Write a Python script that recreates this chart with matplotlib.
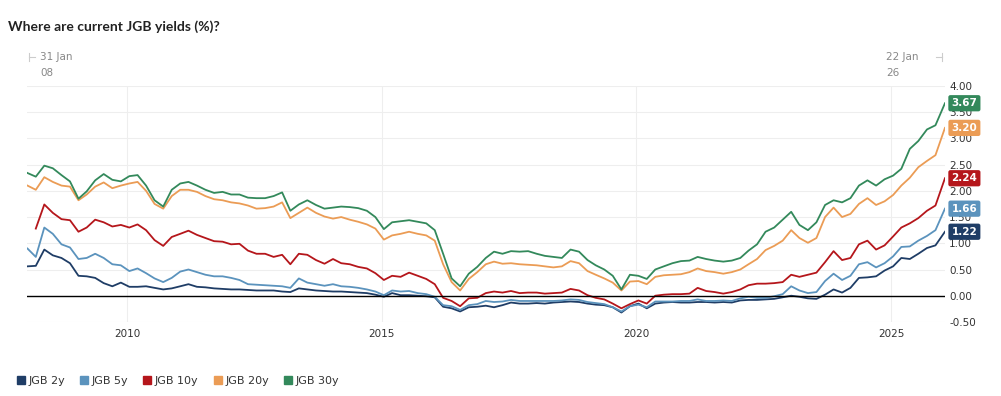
import matplotlib
matplotlib.use("Agg")
import matplotlib.pyplot as plt
import matplotlib.dates as mdates
from matplotlib.lines import Line2D
import pandas as pd
import numpy as np

# bimonthly readings, Jan 2008 .. Nov 2025, plus the latest point (22 Jan 2026)
dates = list(pd.date_range("2008-01-01", periods=108, freq="2MS") + pd.Timedelta(days=14)) + [pd.Timestamp("2026-01-22")]

jgb_2y = [0.56, 0.57, 0.88, 0.77, 0.72, 0.62,
          0.38, 0.37, 0.34, 0.24, 0.18, 0.25,
          0.17, 0.17, 0.18, 0.15, 0.12, 0.14,
          0.18, 0.22, 0.17, 0.16, 0.14, 0.13,
          0.12, 0.12, 0.11, 0.10, 0.10, 0.10,
          0.08, 0.07, 0.14, 0.12, 0.10, 0.09,
          0.08, 0.08, 0.07, 0.06, 0.05, 0.02,
          -0.02, 0.05, 0.01, 0.01, 0.00, -0.01,
          -0.03, -0.21, -0.24, -0.30, -0.22, -0.21,
          -0.19, -0.22, -0.18, -0.13, -0.15, -0.15,
          -0.14, -0.15, -0.13, -0.12, -0.11, -0.12,
          -0.15, -0.17, -0.18, -0.22, -0.32, -0.20,
          -0.15, -0.24, -0.15, -0.13, -0.12, -0.13,
          -0.13, -0.12, -0.12, -0.13, -0.12, -0.13,
          -0.09, -0.08, -0.08, -0.07, -0.06, -0.03,
          0.00, -0.02, -0.05, -0.06, 0.02, 0.12,
          0.06, 0.15, 0.34, 0.35, 0.37, 0.48,
          0.56, 0.72, 0.70, 0.80, 0.91, 0.96,
          1.22]

jgb_5y = [0.90, 0.74, 1.30, 1.18, 0.98, 0.92,
          0.70, 0.72, 0.80, 0.72, 0.60, 0.58,
          0.47, 0.52, 0.43, 0.33, 0.26, 0.34,
          0.46, 0.50, 0.45, 0.40, 0.37, 0.37,
          0.34, 0.30, 0.22, 0.21, 0.20, 0.19,
          0.18, 0.15, 0.33, 0.25, 0.22, 0.19,
          0.22, 0.18, 0.17, 0.15, 0.12, 0.08,
          0.01, 0.10, 0.08, 0.09, 0.05, 0.03,
          -0.02, -0.18, -0.20, -0.27, -0.18, -0.16,
          -0.10, -0.12, -0.11, -0.08, -0.10, -0.10,
          -0.10, -0.10, -0.10, -0.09, -0.07, -0.08,
          -0.12, -0.14, -0.16, -0.22, -0.30, -0.20,
          -0.17, -0.22, -0.11, -0.11, -0.11, -0.10,
          -0.10, -0.07, -0.10, -0.10, -0.09, -0.10,
          -0.05, -0.02, -0.04, -0.04, -0.01, 0.03,
          0.18, 0.10, 0.05, 0.07, 0.28, 0.42,
          0.30, 0.38, 0.60, 0.64, 0.54, 0.62,
          0.75, 0.93, 0.94, 1.05, 1.14, 1.25,
          1.66]

jgb_10y = [np.nan, 1.28, 1.74, 1.58, 1.46, 1.44,
           1.22, 1.30, 1.45, 1.40, 1.32, 1.35,
           1.30, 1.36, 1.25, 1.06, 0.95, 1.12,
           1.18, 1.24, 1.16, 1.10, 1.04, 1.03,
           0.98, 0.99, 0.86, 0.80, 0.80, 0.74,
           0.78, 0.60, 0.80, 0.78, 0.68, 0.61,
           0.70, 0.62, 0.60, 0.55, 0.52, 0.43,
           0.30, 0.38, 0.36, 0.44, 0.38, 0.32,
           0.22, -0.04, -0.10, -0.20, -0.05, -0.04,
           0.05, 0.08, 0.06, 0.09, 0.05, 0.06,
           0.06, 0.04, 0.05, 0.06, 0.13, 0.10,
           0.01, -0.04, -0.07, -0.15, -0.24, -0.16,
           -0.09, -0.15, 0.00, 0.02, 0.03, 0.03,
           0.04, 0.15, 0.09, 0.07, 0.04, 0.07,
           0.12, 0.20, 0.23, 0.23, 0.24, 0.26,
           0.40, 0.36, 0.40, 0.44, 0.64, 0.85,
           0.68, 0.72, 0.98, 1.05, 0.88, 0.96,
           1.13, 1.30, 1.38, 1.48, 1.62, 1.72,
           2.24]

jgb_20y = [2.10, 2.02, 2.26, 2.17, 2.10, 2.08,
           1.82, 1.93, 2.08, 2.16, 2.05, 2.10,
           2.14, 2.17, 2.00, 1.75, 1.66, 1.90,
           2.02, 2.02, 1.98, 1.90, 1.84, 1.82,
           1.78, 1.76, 1.72, 1.66, 1.67, 1.70,
           1.78, 1.48, 1.58, 1.68, 1.58, 1.51,
           1.47, 1.50, 1.45, 1.41, 1.36, 1.28,
           1.07, 1.15, 1.18, 1.22, 1.18, 1.15,
           1.05, 0.60, 0.26, 0.10, 0.32, 0.45,
           0.60, 0.65, 0.61, 0.62, 0.60, 0.59,
           0.58, 0.56, 0.54, 0.56, 0.66, 0.62,
           0.47, 0.40, 0.33, 0.25, 0.10, 0.27,
           0.28, 0.22, 0.36, 0.39, 0.40, 0.41,
           0.45, 0.52, 0.47, 0.45, 0.42, 0.45,
           0.50, 0.60, 0.70, 0.87, 0.95, 1.05,
           1.25, 1.10, 1.01, 1.10, 1.50, 1.68,
           1.50, 1.56, 1.75, 1.86, 1.73, 1.80,
           1.92, 2.10, 2.25, 2.45, 2.57, 2.68,
           3.20]

jgb_30y = [2.34, 2.27, 2.48, 2.43, 2.30, 2.18,
           1.85, 1.99, 2.20, 2.32, 2.21, 2.18,
           2.28, 2.30, 2.10, 1.82, 1.70, 2.02,
           2.14, 2.17, 2.10, 2.02, 1.96, 1.98,
           1.93, 1.93, 1.87, 1.86, 1.86, 1.90,
           1.97, 1.62, 1.74, 1.82, 1.73, 1.66,
           1.68, 1.70, 1.69, 1.67, 1.62, 1.50,
           1.27, 1.40, 1.42, 1.44, 1.41, 1.38,
           1.25, 0.80, 0.33, 0.18, 0.42, 0.55,
           0.72, 0.84, 0.80, 0.85, 0.84, 0.85,
           0.80, 0.76, 0.74, 0.72, 0.88, 0.84,
           0.68, 0.58, 0.50, 0.38, 0.12, 0.40,
           0.38, 0.32, 0.50, 0.56, 0.62, 0.66,
           0.67, 0.74, 0.70, 0.67, 0.65, 0.67,
           0.72, 0.86, 0.98, 1.22, 1.30, 1.45,
           1.60, 1.35, 1.25, 1.40, 1.73, 1.82,
           1.78, 1.86, 2.10, 2.20, 2.10, 2.22,
           2.29, 2.42, 2.80, 2.95, 3.17, 3.25,
           3.67]

names = ["JGB 2y", "JGB 5y", "JGB 10y", "JGB 20y", "JGB 30y"]
colors = ["#1f3d66", "#5b93bd", "#b5161b", "#eb9c55", "#33895b"]
series = [jgb_2y, jgb_5y, jgb_10y, jgb_20y, jgb_30y]

fig = plt.figure(figsize=(10.01, 3.96), dpi=100)
ax = fig.add_axes([0.027, 0.187, 0.917, 0.596])

for vals, c in zip(series, colors):
    ax.plot(dates, vals, color=c, lw=1.3, zorder=3)

ax.axhline(0, color="black", lw=1, zorder=4)

ax.set_ylim(-0.5, 4.0)
ax.set_xlim(pd.Timestamp("2008-01-12"), pd.Timestamp("2026-01-22"))
ax.set_yticks(np.arange(-0.5, 4.01, 0.5))
ax.yaxis.set_major_formatter(matplotlib.ticker.FormatStrFormatter("%.2f"))
ax.yaxis.tick_right()
ax.xaxis.set_major_locator(mdates.YearLocator(5))
ax.xaxis.set_major_formatter(mdates.DateFormatter("%Y"))
ax.tick_params(axis="both", length=0, labelsize=7.5, labelcolor="#333333")
ax.tick_params(axis="y", pad=3)
ax.tick_params(axis="x", pad=5)
ax.grid(True, color="#eeeeee", lw=0.8, zorder=0)
for s in ax.spines.values():
    s.set_visible(False)

# latest value tags
for vals, c in zip(series, colors):
    ax.annotate(f"{vals[-1]:.2f}", xy=(dates[-1], vals[-1]), xytext=(14, 0),
                textcoords="offset points", ha="center", va="center",
                fontsize=7.5, fontweight="bold", color="white", zorder=6,
                annotation_clip=False,
                bbox=dict(boxstyle="round,pad=0.3,rounding_size=0.2", fc=c, ec="none"))

# title and range labels
fig.text(0.008, 0.932, "Where are current JGB yields (%)?", fontsize=10,
         fontweight="bold", family=["Lato", "DejaVu Sans"], color="#222222", va="center")
fig.text(0.040, 0.855, "31 Jan", fontsize=7.5, color="#888888", va="center")
fig.text(0.040, 0.815, "08", fontsize=7.5, color="#888888", va="center")
fig.text(0.885, 0.855, "22 Jan", fontsize=7.5, color="#888888", va="center")
fig.text(0.885, 0.815, "26", fontsize=7.5, color="#888888", va="center")
fig.add_artist(Line2D([0.029, 0.029], [0.845, 0.865], color="#cccccc", lw=0.8))
fig.add_artist(Line2D([0.029, 0.035], [0.855, 0.855], color="#cccccc", lw=0.8))
fig.add_artist(Line2D([0.941, 0.941], [0.845, 0.865], color="#cccccc", lw=0.8))
fig.add_artist(Line2D([0.935, 0.941], [0.855, 0.855], color="#cccccc", lw=0.8))

handles = [Line2D([], [], marker="s", ls="none", color=c, markersize=6) for c in colors]
fig.legend(handles, names, loc="center left", bbox_to_anchor=(0.005, 0.038), ncol=5,
           frameon=False, fontsize=8, handletextpad=0.2, columnspacing=1.2,
           handlelength=1.0, labelcolor="#333333")

fig.savefig("out.png", dpi=100)
